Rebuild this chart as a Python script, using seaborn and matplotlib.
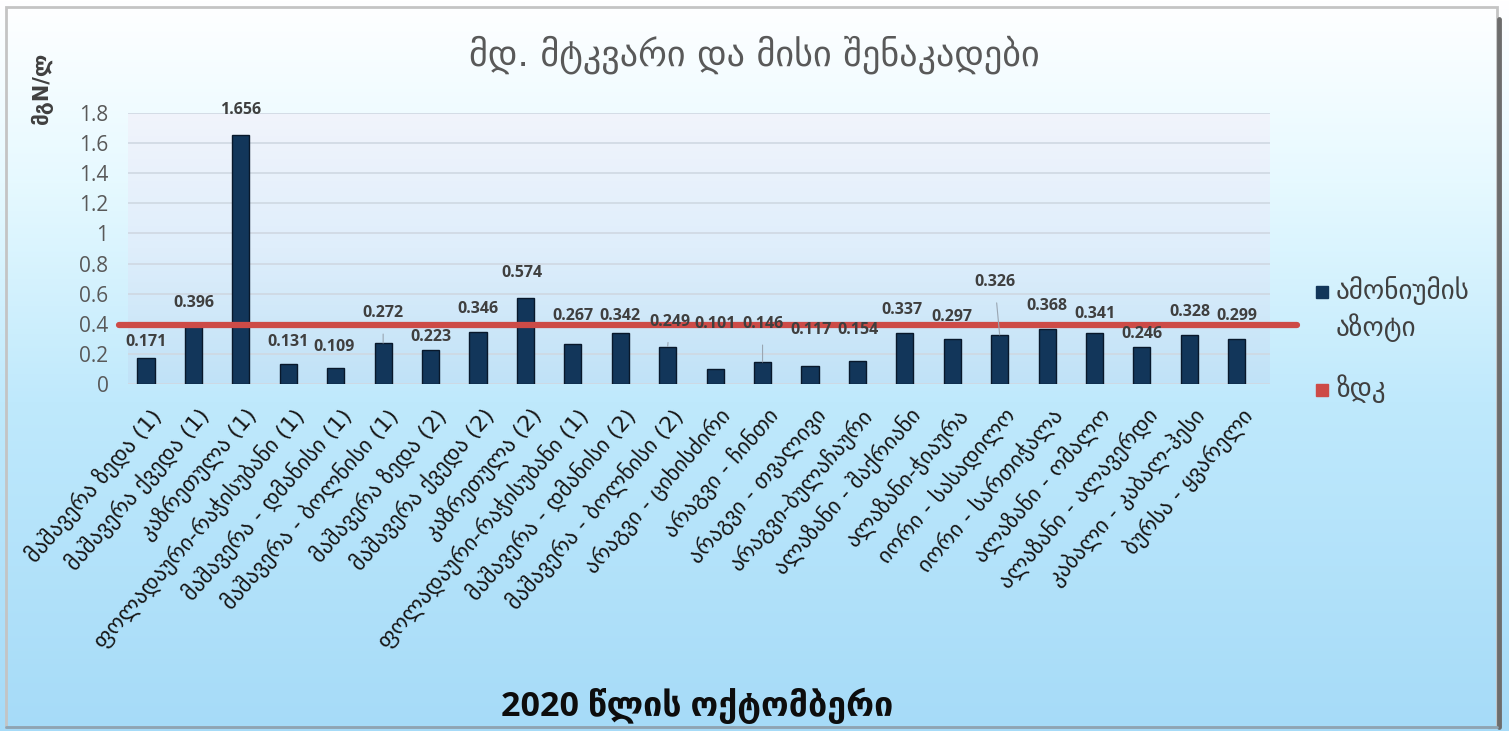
import numpy as np
import pandas as pd
import matplotlib
matplotlib.use("Agg")
import matplotlib.pyplot as plt
import matplotlib.transforms as mtransforms
from matplotlib.colors import LinearSegmentedColormap
from matplotlib.lines import Line2D
from matplotlib.patches import Rectangle
import seaborn as sns

# ---- data -------------------------------------------------------------
stations = [
    "მაშავერა ზედა (1)",
    "მაშავერა ქვედა (1)",
    "კაზრეთულა (1)",
    "ფოლადაური-რაჭისუბანი (1)",
    "მაშავერა - დმანისი (1)",
    "მაშავერა - ბოლნისი (1)",
    "მაშავერა ზედა (2)",
    "მაშავერა ქვედა (2)",
    "კაზრეთულა (2)",
    "ფოლადაური-რაჭისუბანი (1)",
    "მაშავერა - დმანისი (2)",
    "მაშავერა - ბოლნისი (2)",
    "არაგვი - ციხისძირი",
    "არაგვი - ჩინთი",
    "არაგვი - თვალივი",
    "არაგვი-ბულაჩაური",
    "ალაზანი - შაქრიანი",
    "ალაზანი-ჭიაურა",
    "იორი - სასადილო",
    "იორი - სართიჭალა",
    "ალაზანი - ომალო",
    "ალაზანი - ალავერდი",
    "კაბალი - კაბალ-ჰესი",
    "ბურსა - ყვარელი",
]
ammonium_n = [0.171, 0.396, 1.656, 0.131, 0.109, 0.272, 0.223, 0.346,
              0.574, 0.267, 0.342, 0.249, 0.101, 0.146, 0.117, 0.154,
              0.337, 0.297, 0.326, 0.368, 0.341, 0.246, 0.328, 0.299]
zdk = 0.39

y_ticks = [0, 0.2, 0.4, 0.6, 0.8, 1.0, 1.2, 1.4, 1.6, 1.8]
y_tick_labels = ["0", "0.2", "0.4", "0.6", "0.8", "1", "1.2", "1.4", "1.6", "1.8"]

title = "მდ. მტკვარი და მისი შენაკადები"
y_label = "მგN/ლ"
x_caption = "2020 წლის ოქტომბერი"
legend_labels = ["ამონიუმის\nაზოტი", "ზდკ"]

# value-label placement (pixels from the bar top) and leader lines
label_dy = [16, 21, 25, 22, 21, 30, 13, 23, 25, 28, 17, 25,
            45, 38, 36, 31, 23, 22, 53, 23, 19, 13, 23, 23]
label_dx = [0, 0, 0, 0, -2, 0, 0, 0, -3, 0, 0, 2,
            0, 0, 1, 1, -3, 0, -5, 0, 0, 0, 0, 0]
leader_idx = {5, 11, 13, 18}

# ---- style ------------------------------------------------------------
bar_color = "#12365a"
bar_edge = "#08182b"
line_color = "#cd4b47"
text_gray = "#595959"

sns.set_theme(style="white")
plt.rcParams["font.family"] = ["Open Sans", "DejaVu Sans"]

W, H = 1509, 731
fig = plt.figure(figsize=(W / 100, H / 100), dpi=100)

# figure background gradient
bg = fig.add_axes([0, 0, 1, 1], zorder=-10)
grad = np.linspace(0, 1, 256).reshape(-1, 1)
bg_cmap = LinearSegmentedColormap.from_list(
    "bg", [(0, "#ffffff"), (0.25, "#e6f9ff"), (0.55, "#bfe9fc"), (1, "#a6dbf8")])
bg.imshow(grad, cmap=bg_cmap, aspect="auto", extent=[0, 1, 0, 1], origin="upper")
bg.set_axis_off()

# frame around the chart
fig.add_artist(Rectangle((6 / W, 4 / H), (1497 - 6) / W, (724 - 4) / H,
                         transform=fig.transFigure, fill=False,
                         edgecolor="#c4c4c4", lw=2))
fig.add_artist(Line2D([1499 / W, 1499 / W], [4 / H, 712 / H],
                      transform=fig.transFigure, color="#6d6d6d", lw=3.5))
fig.add_artist(Line2D([6 / W, 1497 / W], [4 / H, 4 / H],
                      transform=fig.transFigure, color="#8da4b4", lw=2))

# plot area
left, right, bottom, top = 128, 1270, 384, 113
ax = fig.add_axes([left / W, 1 - bottom / H, (right - left) / W, (bottom - top) / H])
ax.patch.set_alpha(0)
plot_cmap = LinearSegmentedColormap.from_list(
    "plot", [(0, "#f1f4fc"), (0.5, "#dfeefb"), (1, "#c0e2f7")])
ax.imshow(grad, cmap=plot_cmap, aspect="auto", extent=[0, 1, 0, 1],
          origin="upper", transform=ax.transAxes, zorder=0)

# one bar per sampling point (station names repeat, so bars are keyed by order)
df = pd.DataFrame({"pos": range(len(stations)), "value": ammonium_n})
sns.barplot(data=df, x="pos", y="value", color=bar_color, saturation=1,
            width=0.36, edgecolor=bar_edge, linewidth=1, ax=ax, zorder=3)

ax.set_xlim(-0.38, 23.7)
ax.set_ylim(0, 1.8)
ax.set_aspect("auto")
ax.set_yticks(y_ticks)
ax.set_yticklabels(y_tick_labels, fontsize=15, color=text_gray)
ax.yaxis.grid(True, color="#cfd8e2", lw=1.2)
ax.set_axisbelow(True)
for s in ax.spines.values():
    s.set_visible(False)
ax.tick_params(axis="y", length=0, pad=14)
ax.tick_params(axis="x", length=0, pad=20)
ax.set_xlabel("")
ax.set_ylabel("")

ax.set_xticks(range(len(stations)))
ax.set_xticklabels(stations, rotation=49, ha="right", va="center",
                   rotation_mode="anchor", fontsize=16, color="#151515",
                   family="DejaVu Sans")
shift = mtransforms.ScaledTranslation(12 / 100, 0, fig.dpi_scale_trans)
for lbl in ax.get_xticklabels():
    lbl.set_transform(lbl.get_transform() + shift)

# threshold line (ZDK)
ax.axhline(zdk, xmin=-0.008, xmax=1.024, color=line_color, lw=4.5,
           clip_on=False, zorder=4)

# value labels
for i, v in enumerate(ammonium_n):
    arrow = None
    if i in leader_idx:
        arrow = dict(arrowstyle="-", color="#9aa6b2", lw=0.8,
                     shrinkA=7, shrinkB=0)
    ax.annotate(f"{v:.3f}", xy=(i, v), xytext=(label_dx[i], label_dy[i]),
                textcoords="offset pixels", ha="center", va="center",
                fontsize=11.5, fontweight="bold", color="#3f3f3f",
                arrowprops=arrow, zorder=6)

# titles
fig.text(754 / W, 1 - 55 / H, title, fontsize=26, color=text_gray,
         ha="center", va="center", family="DejaVu Sans")
fig.text(42 / W, 1 - 88 / H, y_label, fontsize=15, fontweight="bold",
         color="#404040", rotation=90, ha="center", va="center",
         family="DejaVu Sans")
fig.text(697 / W, 1 - 706 / H, x_caption, fontsize=24.5, fontweight="bold",
         color="#0d0d0d", ha="center", va="center")

# legend
legend_colors = [bar_color, line_color]
legend_y = [292, 390]
for lab, col, yy in zip(legend_labels, legend_colors, legend_y):
    fig.add_artist(Line2D([1322 / W], [1 - yy / H], transform=fig.transFigure,
                          marker="s", markersize=9, markerfacecolor=col,
                          markeredgecolor=col, ls=""))
    fig.text(1336 / W, 1 - (yy - 16) / H, lab, fontsize=19.5, color="#404040",
             ha="left", va="top", linespacing=1.35, family="DejaVu Sans")

fig.savefig("out.png", dpi=100)
